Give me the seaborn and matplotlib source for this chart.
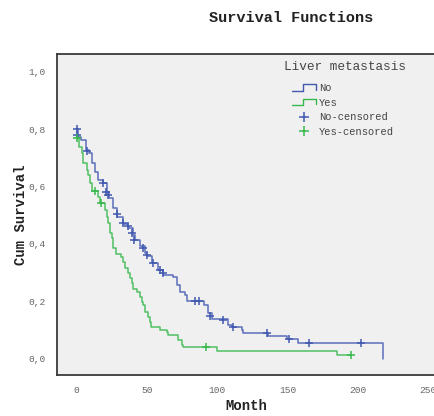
import numpy as np
import pandas as pd
import matplotlib
matplotlib.use("Agg")
import matplotlib.pyplot as plt
import seaborn as sns
from matplotlib.legend_handler import HandlerBase
from matplotlib.lines import Line2D

# ---- data (Kaplan-Meier step values) ----
no_time = [0, 0.7, 3, 6.6, 8.8, 11, 13, 15.2, 18.7, 21.6, 23, 25.9, 28.7, 33, 36.5,
           40, 41.5, 45, 48.6, 50, 53.6, 58, 61.5, 68.6, 71.5, 73.6, 77, 78.6,
           90.7, 93.5, 96, 108, 110.6, 117.8, 118.5, 136, 150, 157.6, 218]
no_surv = [0.80, 0.772, 0.762, 0.727, 0.717, 0.682, 0.650, 0.623, 0.612, 0.581, 0.560,
           0.525, 0.494, 0.470, 0.456, 0.431, 0.414, 0.393, 0.369, 0.358, 0.334, 0.310,
           0.292, 0.285, 0.257, 0.233, 0.223, 0.202, 0.188, 0.160, 0.139, 0.118, 0.111,
           0.101, 0.090, 0.080, 0.070, 0.056, 0.0]

yes_time = [0, 1.5, 3.8, 4.5, 7.3, 8, 9.5, 11, 15.2, 16.8, 20, 21.6, 22.3, 23.7, 25,
            26, 28, 31.5, 33, 34.4, 36.5, 38, 39.4, 40, 43, 45, 46.5, 47.3, 48.6,
            50.8, 52, 53, 59.3, 64.3, 65, 72, 75, 75.7, 100, 185, 195]
yes_surv = [0.77, 0.737, 0.717, 0.682, 0.657, 0.64, 0.612, 0.583, 0.563, 0.543, 0.518,
            0.494, 0.473, 0.438, 0.421, 0.386, 0.365, 0.355, 0.337, 0.317, 0.299, 0.282,
            0.264, 0.243, 0.233, 0.216, 0.198, 0.188, 0.163, 0.146, 0.129, 0.111, 0.101,
            0.094, 0.083, 0.066, 0.049, 0.042, 0.028, 0.014, 0.014]

no_cens_time = [0, 0.5, 7, 18.5, 21, 22, 29, 33, 36.5, 39.5, 41, 47, 50, 54, 59, 61.5,
                84.3, 87, 95, 104, 111, 135.5, 151, 165.5, 202]
no_cens_surv = [0.80, 0.78, 0.724, 0.612, 0.581, 0.571, 0.504, 0.474, 0.463, 0.439,
                0.414, 0.386, 0.362, 0.334, 0.310, 0.300, 0.202, 0.202, 0.150, 0.136,
                0.111, 0.090, 0.070, 0.056, 0.056]
yes_cens_time = [0, 13, 17.3, 92, 195]
yes_cens_surv = [0.77, 0.583, 0.543, 0.042, 0.014]

x_ticks = [0, 50, 100, 150, 200, 250]
y_ticks = [0.0, 0.2, 0.4, 0.6, 0.8, 1.0]
y_tick_labels = ["0,0", "0,2", "0,4", "0,6", "0,8", "1,0"]

blue = "#4058B0"
green = "#36B84C"

sns.set_style("white")
plt.rcParams["font.family"] = ["Liberation Mono", "DejaVu Sans Mono"]

fig = plt.figure(figsize=(4.35, 4.16), dpi=100)
fig.patch.set_facecolor("white")
ax = fig.add_axes([57 / 435, 1 - 375 / 416, 378 / 435, (375 - 54) / 416])
ax.set_facecolor("#F0F0F0")

df_no = pd.DataFrame({"t": no_time, "s": no_surv})
df_yes = pd.DataFrame({"t": yes_time, "s": yes_surv})
sns.lineplot(data=df_no, x="t", y="s", ax=ax, color=blue, lw=1.1,
             drawstyle="steps-post", estimator=None, sort=False, alpha=0.85)
sns.lineplot(data=df_yes, x="t", y="s", ax=ax, color=green, lw=1.1,
             drawstyle="steps-post", estimator=None, sort=False, alpha=0.85)

dc_no = pd.DataFrame({"t": no_cens_time, "s": no_cens_surv})
dc_yes = pd.DataFrame({"t": yes_cens_time, "s": yes_cens_surv})
sns.scatterplot(data=dc_no, x="t", y="s", ax=ax, marker="+", color=blue, s=40,
                linewidth=1.1, zorder=5)
sns.scatterplot(data=dc_yes, x="t", y="s", ax=ax, marker="+", color=green, s=40,
                linewidth=1.1, zorder=5)

ax.set_xlim(-14, 255)
ax.set_ylim(-0.056, 1.061)
ax.set_xticks(x_ticks)
ax.set_yticks(y_ticks)
ax.set_yticklabels(y_tick_labels)
ax.tick_params(axis="both", direction="out", length=5, width=1, color="#333333",
               labelcolor="#666666", labelsize=6.8, pad=3)
for sp in ax.spines.values():
    sp.set_color("#3a3a3a")
    sp.set_linewidth(1.3)

ax.set_xlabel("Month", fontsize=10, fontweight="bold", color="#222222", labelpad=2.5)
ax.set_ylabel("Cum Survival", fontsize=10, fontweight="bold", color="#222222", labelpad=0.5)

fig.text(291 / 435, 1 - 18 / 416, "Survival Functions", ha="center", va="center",
         fontsize=11, fontweight="bold", color="#222222")

# legend title drawn as text, entries below it
fig.text(345 / 435, 1 - 67 / 416, "Liver metastasis", ha="center", va="center",
         fontsize=9.2, color="#444444")


class StepHandler(HandlerBase):
    def create_artists(self, legend, orig_handle, xdescent, ydescent, width, height,
                       fontsize, trans):
        x0 = -xdescent
        xs = [x0, x0 + 0.45 * width, x0 + 0.45 * width, x0 + width, x0 + width]
        ys = [0.05 * height, 0.05 * height, 0.9 * height, 0.9 * height, 0.2 * height]
        ln = Line2D(xs, ys, color=orig_handle.get_color(), lw=1.0, transform=trans)
        return [ln]


h_no = Line2D([], [], color=blue)
h_yes = Line2D([], [], color=green)
h_nc = Line2D([], [], color=blue, marker="+", ls="none", markersize=7, mew=1.1)
h_yc = Line2D([], [], color=green, marker="+", ls="none", markersize=7, mew=1.1)
leg = ax.legend([h_no, h_yes, h_nc, h_yc], ["No", "Yes", "No-censored", "Yes-censored"],
                handler_map={h_no: StepHandler(), h_yes: StepHandler()},
                loc="upper left", bbox_to_anchor=(292 / 435, 1 - 83 / 416),
                bbox_transform=fig.transFigure, frameon=False, fontsize=7.5,
                handlelength=2.3, handletextpad=0.3, labelspacing=0.45,
                borderpad=0, borderaxespad=0)
for t in leg.get_texts():
    t.set_color("#444444")

fig.savefig("out.png", dpi=100, facecolor="white")
